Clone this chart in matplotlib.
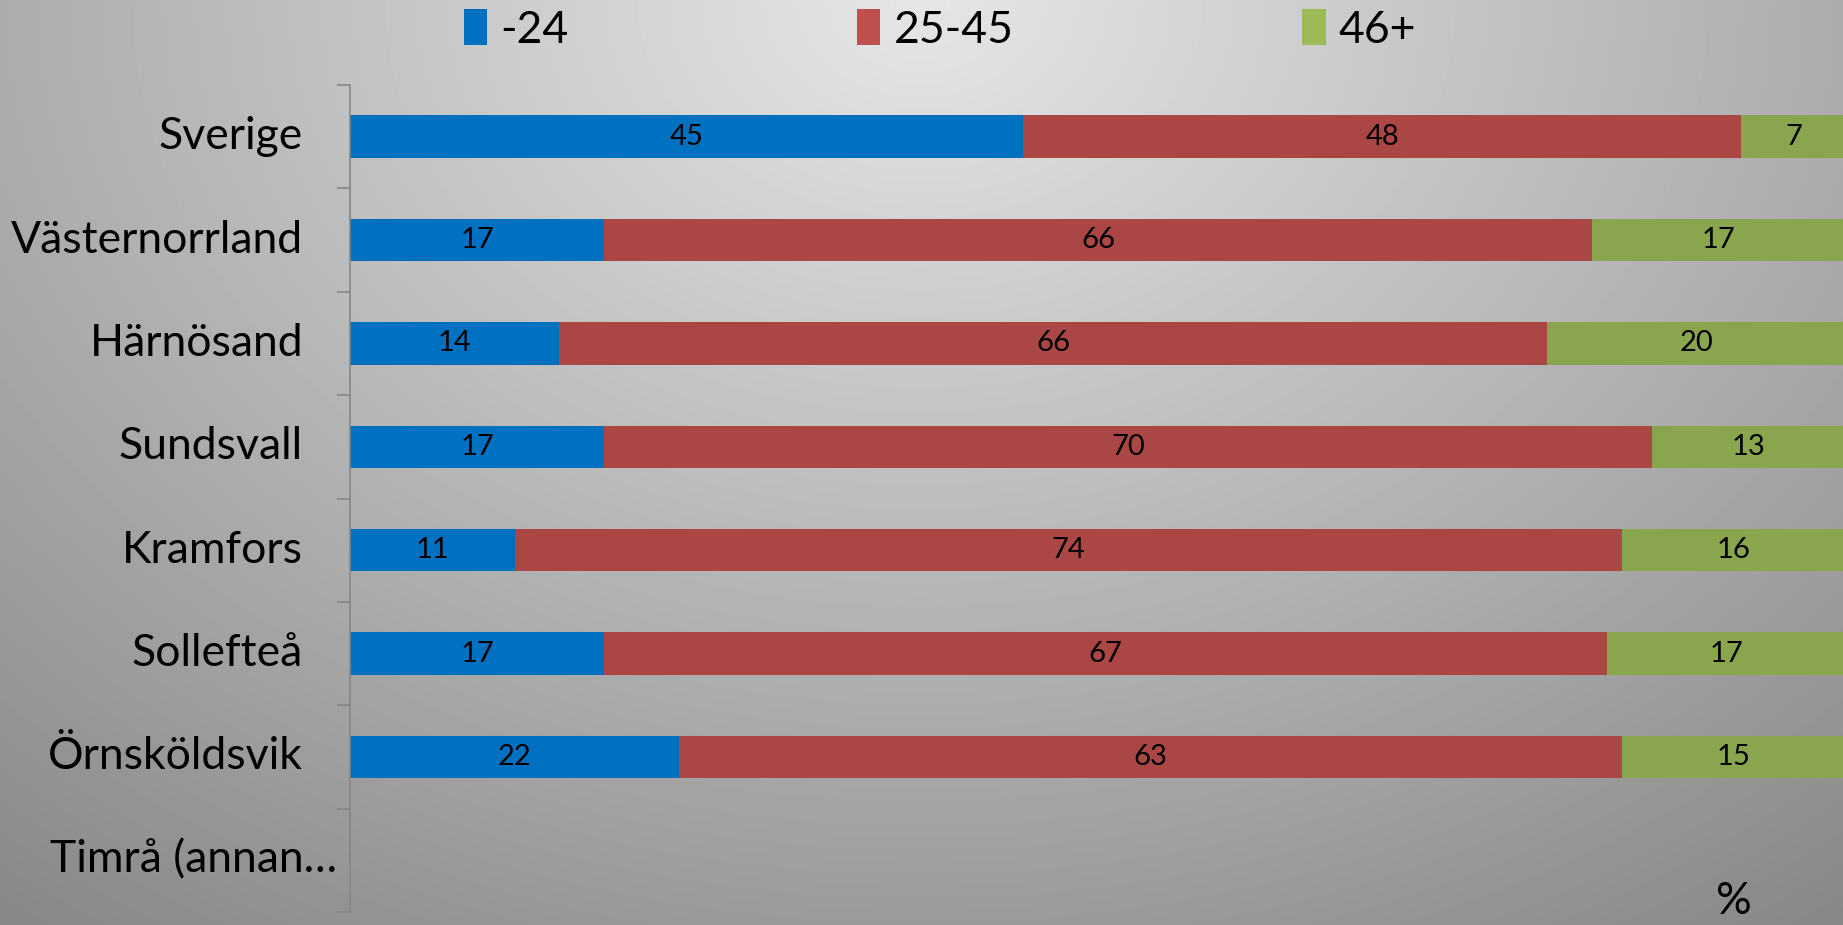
import numpy as np
import matplotlib.pyplot as plt
from matplotlib.patches import Patch

plt.rcParams['font.family'] = ['Lato', 'DejaVu Sans']

categories = ['Sverige', 'Västernorrland', 'Härnösand', 'Sundsvall', 'Kramfors',
              'Sollefteå', 'Örnsköldsvik', 'Timrå (annan…']
series_names = ['-24', '25-45', '46+']
young = [45, 17, 14, 17, 11, 17, 22, 0]
middle = [48, 66, 66, 70, 74, 67, 63, 0]
old = [7, 17, 20, 13, 16, 17, 15, 0]

bar_colors = ['#0070C0', '#AA4643', '#89A54E']
legend_colors = ['#0070C0', '#C0504D', '#9BBB59']

W, H = 1843, 925
fig = plt.figure(figsize=(W / 100, H / 100), dpi=100)

# background: radial grey gradient, light at top centre
bg = fig.add_axes([0, 0, 1, 1], zorder=-1)
yy, xx = np.mgrid[0:H, 0:W]
d = np.sqrt(((xx - 920) / 1300) ** 2 + ((yy - 0) / 1000) ** 2)
shade = np.clip(230 - 82 * d, 120, 240)
bg.imshow(shade, cmap='gray', vmin=0, vmax=255, aspect='auto',
          extent=[0, W, H, 0], interpolation='bilinear')
bg.axis('off')

ax = fig.add_axes([350 / W, 1 - 912 / H, 1496 / W, (912 - 85) / H])
ax.set_facecolor('none')

y = np.arange(len(categories))
left = np.zeros(len(categories))
for vals, name, col in zip([young, middle, old], series_names, bar_colors):
    bars = ax.barh(y, vals, left=left, height=0.41, color=col, label=name)
    ax.bar_label(bars, labels=[str(v) if v else '' for v in vals],
                 label_type='center', fontsize=21, color='black')
    left += np.array(vals)

ax.set_xlim(0, 100)
ax.set_ylim(len(categories) - 0.5, -0.5)
ax.set_xticks([])
ax.set_yticks([])
ax.set_yticks(np.arange(len(categories) + 1) - 0.5, minor=True)
ax.tick_params(axis='y', which='minor', length=9.5, width=1.2, color='#868686')
for s in ['top', 'right', 'bottom']:
    ax.spines[s].set_visible(False)
ax.spines['left'].set_color('#868686')
ax.spines['left'].set_linewidth(1.2)

# category labels
for i, cat in enumerate(categories):
    off = -13 / 1496 if i == len(categories) - 1 else -47 / 1496
    ax.text(off, i, cat, transform=ax.get_yaxis_transform(), ha='right',
            va='center', fontsize=32, color='black')

handles = [Patch(facecolor=c, edgecolor='none') for c in legend_colors]
fig.legend(handles, series_names, loc='center', bbox_to_anchor=(940 / W, 1 - 30 / H),
           ncol=3, frameon=False, fontsize=32, handlelength=0.52, handleheight=0.85,
           handletextpad=0.3, columnspacing=6.5, borderpad=0)

fig.text(1734 / W, 3 / H, '%', ha='center', va='bottom', fontsize=32)

fig.savefig('out.png', dpi=100)
